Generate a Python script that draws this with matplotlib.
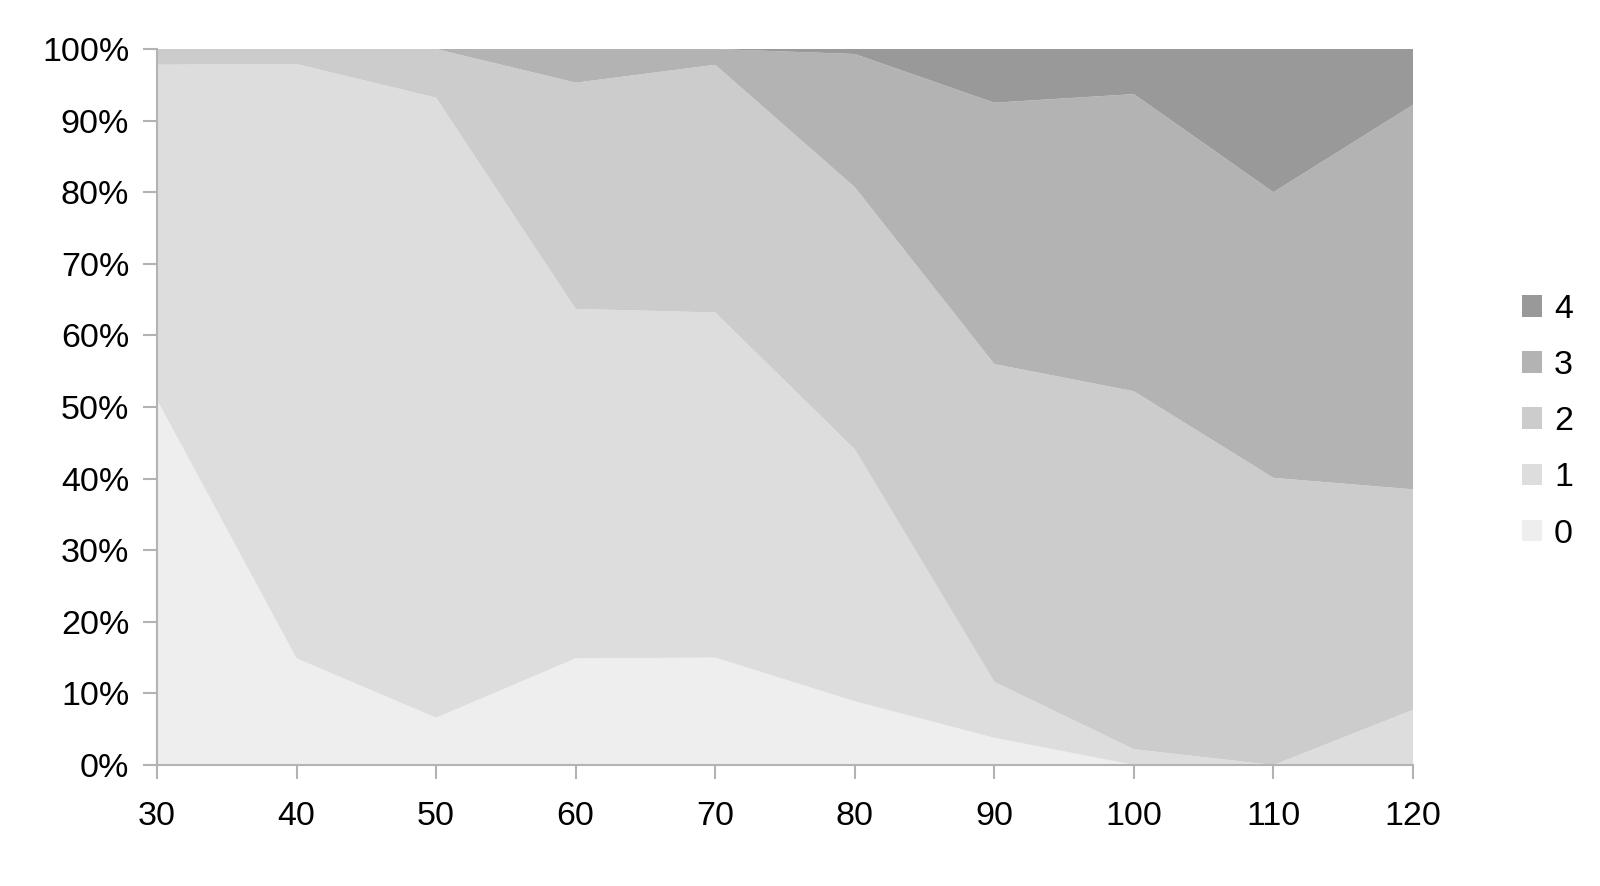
import matplotlib
matplotlib.use("Agg")
import matplotlib.pyplot as plt
from matplotlib.patches import Patch
from matplotlib.ticker import FuncFormatter

plt.rcParams['font.family'] = ['Liberation Sans', 'DejaVu Sans']

x_values = [30, 40, 50, 60, 70, 80, 90, 100, 110, 120]
series_labels = ['0', '1', '2', '3', '4']
s0 = [51.0, 14.9, 6.6, 14.9, 15.0, 8.9, 3.8, 0.0, 0.0, 0.0]
s1 = [46.8, 83.0, 86.6, 48.8, 48.2, 35.2, 7.8, 2.2, 0.0, 7.7]
s2 = [2.2, 2.1, 6.8, 31.6, 34.6, 36.6, 44.4, 50.0, 40.1, 30.8]
s3 = [0.0, 0.0, 0.0, 4.7, 2.2, 18.6, 36.5, 41.5, 39.9, 53.7]
s4 = [0.0, 0.0, 0.0, 0.0, 0.0, 0.7, 7.5, 6.3, 20.0, 7.8]
colors = ['#eeeeee', '#dddddd', '#cccccc', '#b3b3b3', '#999999']

fig = plt.figure(figsize=(16, 8.86), dpi=100)
ax = fig.add_axes([157/1600, 1-765/886, (1413-157)/1600, (765-49)/886])

series = [s0, s1, s2, s3, s4]
ax.stackplot(x_values, *series, colors=colors, linewidth=0)

ax.set_xlim(30, 120)
ax.set_ylim(0, 100)
ax.set_xticks(x_values)
ax.set_yticks(range(0, 101, 10))
ax.yaxis.set_major_formatter(FuncFormatter(lambda v, p: f"{int(v)}%"))

for side in ['top', 'right']:
    ax.spines[side].set_visible(False)
for side in ['left', 'bottom']:
    ax.spines[side].set_color('#b3b3b3')
    ax.spines[side].set_linewidth(1.5)

ax.tick_params(axis='both', colors='#b3b3b3', labelcolor='black',
               labelsize=24.5, width=1.5, length=10, direction='out')
ax.tick_params(axis='y', pad=10)
ax.tick_params(axis='x', pad=16)

handles = [Patch(facecolor=c, edgecolor='none') for c in colors]
fig.legend(handles[::-1], series_labels[::-1], loc='center left',
           bbox_to_anchor=(0.951, 0.524), frameon=False, fontsize=24.5,
           handlelength=0.6, handleheight=0.6, handletextpad=0.35,
           labelspacing=0.74, borderpad=0, borderaxespad=0)

fig.savefig('out.png', dpi=100)
